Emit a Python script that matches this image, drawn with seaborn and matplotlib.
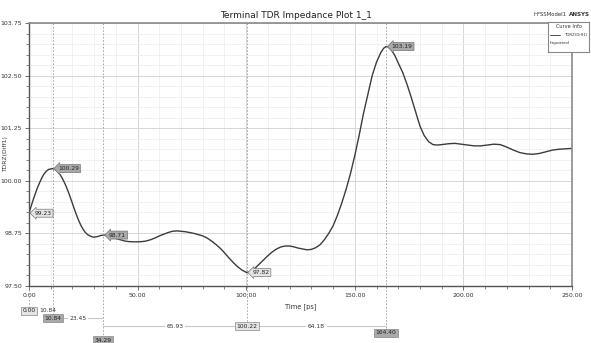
import numpy as np
import pandas as pd
import matplotlib
matplotlib.use('Agg')
import matplotlib.pyplot as plt
import matplotlib.transforms as mtransforms
from matplotlib.ticker import MultipleLocator, FormatStrFormatter
import seaborn as sns

# curve: time [ps] / TDRZ(Diff1)
time_ps = [0, 1, 2, 3, 4, 5, 6, 7, 8, 9, 10.84, 12, 13, 14, 15, 16, 17, 18, 19, 20,
           21, 22, 23, 24, 25, 26, 27, 28, 29, 30, 31, 32, 33, 34.29, 35.5, 37, 38.5,
           40, 42, 44, 46, 48, 50, 52, 54, 56, 58, 60, 62, 64, 66, 68, 70, 72, 74, 76,
           78, 80, 82, 84, 86, 88, 90, 92, 94, 96, 98, 100.22, 102, 104, 106, 108, 110,
           112, 114, 116, 118, 120, 122, 124, 126, 128, 130, 132, 134, 136, 138, 140,
           142, 144, 146, 148, 150, 152, 154, 156, 158, 160, 162, 163.3, 164.4, 165.5,
           167, 168.5, 170, 172, 174, 176, 178, 180, 182, 184, 186, 188, 190, 193, 196,
           199, 202, 205, 208, 211, 214, 217, 220, 223, 226, 229, 232, 235, 238, 241,
           244, 247, 250]
tdrz = [99.23, 99.40, 99.56, 99.71, 99.85, 99.97, 100.08, 100.17, 100.23, 100.27,
        100.29, 100.27, 100.23, 100.17, 100.09, 99.99, 99.88, 99.75, 99.61, 99.46,
        99.31, 99.17, 99.04, 98.93, 98.84, 98.77, 98.72, 98.69, 98.67, 98.66, 98.67,
        98.68, 98.70, 98.71, 98.71, 98.69, 98.66, 98.63, 98.60, 98.57, 98.555, 98.55,
        98.55, 98.555, 98.57, 98.60, 98.64, 98.69, 98.73, 98.77, 98.80, 98.81, 98.80,
        98.79, 98.77, 98.75, 98.72, 98.69, 98.64, 98.57, 98.49, 98.40, 98.29, 98.17,
        98.06, 97.96, 97.88, 97.82, 97.84, 97.92, 98.02, 98.12, 98.22, 98.31, 98.38,
        98.43, 98.45, 98.45, 98.43, 98.40, 98.38, 98.36, 98.37, 98.41, 98.48, 98.60,
        98.75, 98.93, 99.18, 99.47, 99.80, 100.17, 100.60, 101.08, 101.60, 102.05,
        102.50, 102.82, 103.05, 103.15, 103.19, 103.18, 103.10, 102.97, 102.80, 102.58,
        102.30, 101.98, 101.64, 101.30, 101.07, 100.93, 100.86, 100.85, 100.86, 100.88,
        100.89, 100.87, 100.85, 100.83, 100.83, 100.85, 100.87, 100.86, 100.80, 100.73,
        100.67, 100.64, 100.63, 100.65, 100.69, 100.73, 100.75, 100.76, 100.77]

# markers
marker_t = [0.00, 10.84, 34.29, 100.22, 164.40]
marker_v = [99.23, 100.29, 98.71, 97.82, 103.19]
marker_dark = [False, True, True, False, True]

df = pd.DataFrame({'t': time_ps, 'z': tdrz})

sns.set_style('white')
plt.rcParams['font.family'] = ['DejaVu Sans']

W, H = 591, 343
fig = plt.figure(figsize=(W / 100, H / 100), dpi=100)
ax = fig.add_axes([29 / W, 1 - 286 / H, 543 / W, 263 / H])

def fy(px):
    return 1 - px / H

sns.lineplot(data=df, x='t', y='z', ax=ax, color='#3c3c3c', linewidth=1.0)
for ln in ax.get_lines():
    ln.set_solid_joinstyle('round')

ax.set_xlim(0, 250)
ax.set_ylim(97.5, 103.75)
ax.xaxis.set_major_locator(MultipleLocator(50))
ax.xaxis.set_minor_locator(MultipleLocator(10))
ax.yaxis.set_major_locator(MultipleLocator(1.25))
ax.yaxis.set_minor_locator(MultipleLocator(0.25))
ax.xaxis.set_major_formatter(FormatStrFormatter('%.2f'))
ax.yaxis.set_major_formatter(FormatStrFormatter('%.2f'))
ax.grid(True, which='major', color='#d6d6d6', linewidth=0.7)
ax.grid(True, which='minor', color='#efefef', linewidth=0.6)
ax.tick_params(which='major', direction='out', length=3, width=0.6, color='#555',
               labelsize=4.5, labelcolor='#333', pad=2)
ax.tick_params(which='minor', direction='out', length=2, width=0.5, color='#555')
ax.tick_params(axis='x', which='both', bottom=True)
ax.tick_params(axis='y', which='both', left=True)

for side in ['left', 'bottom']:
    ax.spines[side].set_color('#555555')
    ax.spines[side].set_linewidth(1.0)
for side in ['top', 'right']:
    ax.spines[side].set_color('#8a8a8a')
    ax.spines[side].set_linewidth(1.2)

ax.set_xlabel('Time [ps]', fontsize=4.8, color='#333', labelpad=4)
ax.set_ylabel('TDRZ(Diff1)', fontsize=4.3, color='#333')
ax.yaxis.set_label_coords(-21 / 543, 0.5)

fig.text(296 / W, fy(15), 'Terminal TDR Impedance Plot 1_1', ha='center', va='center',
         fontsize=6.5, color='#222')
fig.text(534 / W, fy(15), 'HFSSModel1', ha='left', va='center', fontsize=3.9, color='#333')
fig.text(569 / W, fy(15), 'ANSYS', ha='left', va='center', fontsize=4.1, color='#333',
         fontweight='bold')

# value labels on the curve
dark_fc, light_fc = '#a9a9a9', '#e4e4e4'
for t, v, dk in zip(marker_t, marker_v, marker_dark):
    ax.annotate('%.2f' % v, xy=(t, v), xytext=(4, 0), textcoords='offset points',
                ha='left', va='center', fontsize=4.3, color='#222',
                bbox=dict(boxstyle='larrow,pad=0.25', fc=dark_fc if dk else light_fc,
                          ec='#777', lw=0.5))

# marker lines and delta ruler below the axes
blend = mtransforms.blended_transform_factory(ax.transData, fig.transFigure)
box_rows = [311, 318, 340, 326, 333]
for i, (t, row) in enumerate(zip(marker_t, box_rows)):
    top = 286 if i == 0 else 23
    ax.plot([t, t], [fy(top), fy(row)], transform=blend, clip_on=False,
            color='#9a9a9a', lw=0.6, ls=(0, (2, 2)))
    ax.text(t, fy(row), '%.2f' % t, transform=blend, ha='center', va='center',
            fontsize=4.3, color='#222', clip_on=False,
            bbox=dict(boxstyle='square,pad=0.25', fc=dark_fc if marker_dark[i] else light_fc,
                      ec='#888', lw=0.5))

deltas = np.diff(marker_t)
delta_rows = [311, 318, 326, 326]
for i, (d, row) in enumerate(zip(deltas, delta_rows)):
    t0, t1 = marker_t[i], marker_t[i + 1]
    if i == 0:
        ax.text(t0 + 4.6, fy(row), '%.2f' % d, transform=blend, ha='left', va='center',
                fontsize=4.3, color='#333', clip_on=False)
        continue
    x0 = t0 + (3.5 if i == 1 else 0)
    ax.plot([x0, t1], [fy(row), fy(row)], transform=blend, clip_on=False,
            color='#c8c8c8', lw=0.8)
    ax.text((t0 + t1) / 2, fy(row), '%.2f' % d, transform=blend, ha='center', va='center',
            fontsize=4.3, color='#333', clip_on=False,
            bbox=dict(boxstyle='square,pad=0.3', fc='white', ec='none'))

# curve info box
lg = fig.add_axes([548 / W, 1 - 52 / H, 41 / W, 30 / H])
lg.set_xticks([])
lg.set_yticks([])
lg.set_xlim(0, 1)
lg.set_ylim(0, 1)
for s in lg.spines.values():
    s.set_color('#888')
    s.set_linewidth(0.8)
lg.text(0.5, 0.85, 'Curve Info', ha='center', va='center', fontsize=3.6, color='#333')
lg.plot([0.06, 0.30], [0.57, 0.57], color='#333', lw=0.6)
lg.text(0.97, 0.57, 'TDRZ(Diff1)', ha='right', va='center', fontsize=2.9, color='#333')
lg.text(0.04, 0.30, 'Imported', ha='left', va='center', fontsize=3.2, color='#333')

fig.savefig('out.png', dpi=100)
